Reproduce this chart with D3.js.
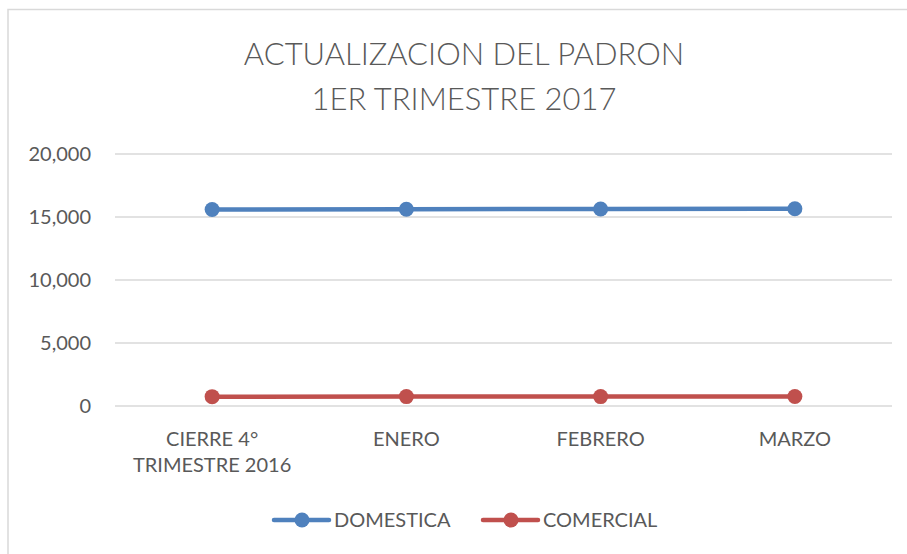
<!DOCTYPE html>
<html>
<head>
<meta charset="utf-8">
<script src="https://cdn.jsdelivr.net/npm/d3@7"></script>
<style>
  body { margin: 0; background: #fff; }
  svg { display: block; font-family: Lato, "Open Sans", sans-serif; }
</style>
</head>
<body>
<div id="chart"></div>
<script>
// Data
const categories = [["CIERRE 4°", "TRIMESTRE 2016"], ["ENERO"], ["FEBRERO"], ["MARZO"]];
const domestica = [15600, 15615, 15635, 15660];
const comercial = [740, 745, 748, 752];
const yTicks = [0, 5000, 10000, 15000, 20000];
const titleLines = ["ACTUALIZACION DEL PADRON", "1ER TRIMESTRE 2017"];
const seriesNames = ["DOMESTICA", "COMERCIAL"];

const width = 907, height = 554;
const margin = { top: 154, right: 15, bottom: 148, left: 115 };
const textColor = "#595959";
const colors = ["#4f81bd", "#c0504d"];

const svg = d3.select("#chart").append("svg")
    .attr("width", width)
    .attr("height", height);

// chart area border (only top and left are visible in the crop)
svg.append("path")
    .attr("d", `M8,${height} V9.5 H${width}`)
    .attr("fill", "none")
    .attr("stroke", "#d9d9d9")
    .attr("stroke-width", 1.5);

// title
svg.append("g").selectAll("text")
    .data(titleLines)
    .enter().append("text")
    .attr("x", 464)
    .attr("y", (d, i) => 65 + i * 45)
    .attr("text-anchor", "middle")
    .attr("fill", textColor)
    .style("font-size", "31px")
    .style("font-weight", 300)
    .text(d => d);

const x = d3.scaleBand()
    .domain(d3.range(categories.length))
    .range([margin.left, width - margin.right]);

const y = d3.scaleLinear()
    .domain([0, 20000])
    .range([height - margin.bottom, margin.top]);

// gridlines
svg.append("g").selectAll("line")
    .data(yTicks)
    .enter().append("line")
    .attr("x1", margin.left)
    .attr("x2", width - margin.right)
    .attr("y1", d => y(d))
    .attr("y2", d => y(d))
    .attr("stroke", "#d9d9d9")
    .attr("stroke-width", 1.3);

// y axis labels
svg.append("g").selectAll("text")
    .data(yTicks)
    .enter().append("text")
    .attr("x", 91)
    .attr("y", d => y(d))
    .attr("dy", "0.35em")
    .attr("text-anchor", "end")
    .attr("fill", textColor)
    .style("font-size", "20px")
    .text(d => d3.format(",")(d));

// x axis labels
const xl = svg.append("g").selectAll("text")
    .data(categories)
    .enter().append("text")
    .attr("x", (d, i) => x(i) + x.bandwidth() / 2)
    .attr("y", 446)
    .attr("text-anchor", "middle")
    .attr("fill", textColor)
    .style("font-size", "20px");
xl.selectAll("tspan")
    .data(d => d)
    .enter().append("tspan")
    .attr("x", function() { return d3.select(this.parentNode).attr("x"); })
    .attr("dy", (d, i) => i === 0 ? 0 : 26)
    .text(d => d);

// lines and markers
const line = d3.line()
    .x((d, i) => x(i) + x.bandwidth() / 2)
    .y(d => y(d));

[domestica, comercial].forEach((values, s) => {
    svg.append("path")
        .datum(values)
        .attr("d", line)
        .attr("fill", "none")
        .attr("stroke", colors[s])
        .attr("stroke-width", 4.5)
        .attr("stroke-linecap", "round");
    svg.append("g").selectAll("circle")
        .data(values)
        .enter().append("circle")
        .attr("cx", (d, i) => x(i) + x.bandwidth() / 2)
        .attr("cy", d => y(d))
        .attr("r", 7.5)
        .attr("fill", colors[s]);
});

// legend
const legendX = [272, 481];
const legend = svg.append("g").selectAll("g")
    .data(seriesNames)
    .enter().append("g")
    .attr("transform", (d, i) => `translate(${legendX[i]},520)`);
legend.append("line")
    .attr("x1", 2).attr("x2", 57)
    .attr("stroke", (d, i) => colors[i])
    .attr("stroke-width", 4.5)
    .attr("stroke-linecap", "round");
legend.append("circle")
    .attr("cx", 30)
    .attr("r", 7.5)
    .attr("fill", (d, i) => colors[i]);
legend.append("text")
    .attr("x", 62)
    .attr("dy", "0.35em")
    .attr("fill", textColor)
    .style("font-size", "20px")
    .text(d => d);
</script>
</body>
</html>
